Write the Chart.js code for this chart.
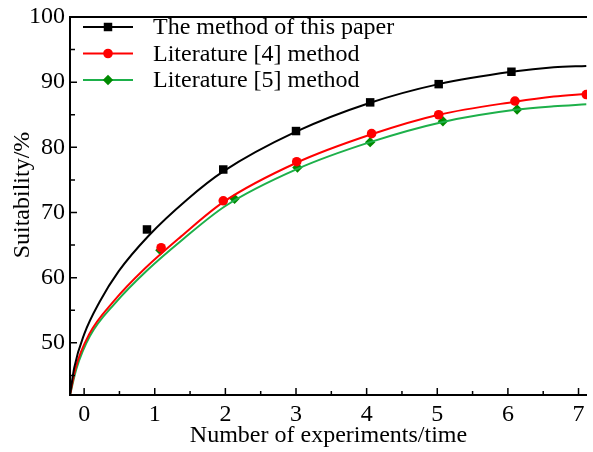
<!DOCTYPE html>
<html>
<head>
<meta charset="utf-8">
<script src="https://cdn.jsdelivr.net/npm/chart.js@4.4.1/dist/chart.umd.min.js"></script>
<style>
  html, body { margin: 0; padding: 0; background: #fff; }
  #wrap { width: 593px; height: 452px; position: relative; }
</style>
</head>
<body>
<div id="wrap"><canvas id="chart"></canvas></div>
<script>
"use strict";

var seriesNames = ["The method of this paper", "Literature [4] method", "Literature [5] method"];
var xTitle = "Number of experiments/time";
var yTitle = "Suitability/%";

// measured points (markers)
var paperX = [0.89, 1.97, 3.0, 4.05, 5.02, 6.05];
var paperY = [67.4, 76.6, 82.5, 86.9, 89.7, 91.6];
var lit4X = [1.09, 1.97, 3.01, 4.07, 5.02, 6.1, 7.11];
var lit4Y = [64.6, 71.8, 77.8, 82.1, 85.0, 87.1, 88.1];
var lit5X = [1.08, 2.13, 3.02, 4.05, 5.08, 6.13];
var lit5Y = [64.2, 72.1, 76.9, 80.8, 84.0, 85.8];

// fitted curves
var paperFitX = [-0.2, -0.14, 0.0, 0.22, 0.49, 0.91, 1.46, 1.97, 3.0, 4.04, 5.02, 6.05, 6.65, 7.11];
var paperFitY = [42.0, 46.2, 51.3, 56.3, 61.0, 66.4, 72.0, 76.3, 82.4, 86.8, 89.7, 91.6, 92.3, 92.5];
var lit4FitX = [-0.2, -0.12, 0.07, 0.42, 0.86, 1.37, 1.97, 3.0, 4.07, 5.02, 6.1, 6.65, 7.11];
var lit4FitY = [42.0, 46.2, 51.3, 56.4, 61.4, 66.3, 71.6, 77.6, 82.0, 85.0, 87.0, 87.8, 88.2];
var lit5FitX = [-0.2, -0.11, 0.08, 0.44, 0.89, 1.4, 2.0, 3.02, 4.05, 5.08, 6.13, 6.65, 7.11];
var lit5FitY = [42.0, 46.0, 51.0, 56.1, 61.1, 65.9, 71.0, 76.7, 80.8, 83.9, 85.8, 86.3, 86.6];

var xTicks = [0, 1, 2, 3, 4, 5, 6, 7];
var yTicks = [50, 60, 70, 80, 90, 100];

var FONT = "'Liberation Serif', 'Times New Roman', serif";

function pts(xs, ys) {
	return xs.map(function(x, i) { return { x: x, y: ys[i] }; });
}

function curve(label, xs, ys, color) {
	return {
		label: label, data: pts(xs, ys), showLine: true, borderColor: color,
		borderWidth: 2, pointRadius: 0, cubicInterpolationMode: "monotone"
	};
}

function markers(label, xs, ys, color, style, radius) {
	return {
		label: label, data: pts(xs, ys), showLine: false, backgroundColor: color,
		borderColor: color, borderWidth: 0, pointStyle: style, pointRadius: radius
	};
}

function drawMarker(ctx, style, x, y, r, color) {
	ctx.fillStyle = color;
	ctx.beginPath();
	if (style === "rect") {
		var s = r * Math.SQRT1_2;
		ctx.rect(x - s, y - s, 2 * s, 2 * s);
	} else if (style === "rectRot") {
		ctx.moveTo(x, y - r); ctx.lineTo(x + r, y); ctx.lineTo(x, y + r); ctx.lineTo(x - r, y);
		ctx.closePath();
	} else {
		ctx.arc(x, y, r, 0, Math.PI * 2);
	}
	ctx.fill();
}

var frameAndLegend = {
	id: "frameAndLegend",
	afterDraw: function(chart) {
		var ctx = chart.ctx, a = chart.chartArea;
		var xs = chart.scales.x, ys = chart.scales.y;
		ctx.save();
		ctx.strokeStyle = "#000";
		ctx.lineWidth = 2;
		ctx.beginPath();
		ctx.moveTo(a.right, a.top); ctx.lineTo(a.left, a.top);
		ctx.lineTo(a.left, a.bottom); ctx.lineTo(a.right, a.bottom);
		ctx.stroke();

		// inward ticks
		ctx.lineWidth = 1.5;
		ctx.beginPath();
		xTicks.forEach(function(v) {
			var px = xs.getPixelForValue(v);
			ctx.moveTo(px, a.bottom); ctx.lineTo(px, a.bottom - 7);
			var mx = xs.getPixelForValue(v + 0.5);
			if (mx < a.right) { ctx.moveTo(mx, a.bottom); ctx.lineTo(mx, a.bottom - 4); }
		});
		yTicks.forEach(function(v) {
			var py = ys.getPixelForValue(v);
			ctx.moveTo(a.left, py); ctx.lineTo(a.left + 7, py);
			var my = ys.getPixelForValue(v - 5);
			if (my < a.bottom) { ctx.moveTo(a.left, my); ctx.lineTo(a.left + 5, my); }
		});
		ctx.stroke();

		// y title, sits a bit above the middle like the original
		ctx.font = "24px " + FONT;
		ctx.fillStyle = "#000";
		ctx.textAlign = "center";
		ctx.textBaseline = "middle";
		ctx.save();
		ctx.translate(23, 195);
		ctx.rotate(-Math.PI / 2);
		ctx.fillText(yTitle, 0, 0);
		ctx.restore();

		// legend
		var rows = [
			{ line: chart.data.datasets[0], mark: chart.data.datasets[3] },
			{ line: chart.data.datasets[1], mark: chart.data.datasets[4] },
			{ line: chart.data.datasets[2], mark: chart.data.datasets[5] }
		];
		ctx.textAlign = "left";
		rows.forEach(function(r, i) {
			var y = 27 + i * 26.5;
			ctx.strokeStyle = r.line.borderColor;
			ctx.lineWidth = 2;
			ctx.beginPath(); ctx.moveTo(83, y); ctx.lineTo(133, y); ctx.stroke();
			drawMarker(ctx, r.mark.pointStyle, 108, y, r.mark.pointRadius, r.mark.backgroundColor);
			ctx.fillStyle = "#000";
			ctx.fillText(r.mark.label, 153, y + 1);
		});
		ctx.restore();
	}
};

new Chart(document.getElementById("chart").getContext("2d"), {
	type: "scatter",
	data: {
		datasets: [
			curve(seriesNames[0], paperFitX, paperFitY, "#000000"),
			curve(seriesNames[1], lit4FitX, lit4FitY, "#ff0000"),
			curve(seriesNames[2], lit5FitX, lit5FitY, "#1db04a"),
			markers(seriesNames[0], paperX, paperY, "#000000", "rect", 6),
			markers(seriesNames[1], lit4X, lit4Y, "#ff0000", "circle", 4.8),
			markers(seriesNames[2], lit5X, lit5Y, "#008a00", "rectRot", 5.2)
		]
	},
	options: {
		responsive: true,
		maintainAspectRatio: false,
		animation: false,
		layout: { padding: { top: 13, right: 0, left: 0, bottom: 0 } },
		plugins: { legend: { display: false }, tooltip: { enabled: false } },
		scales: {
			x: {
				type: "linear", min: -0.2, max: 7.12,
				grid: { display: false, drawTicks: false }, border: { display: false },
				afterFit: function(s) { s.height = 57; },
				afterBuildTicks: function(s) { s.ticks = xTicks.map(function(v) { return { value: v }; }); },
				ticks: { padding: 8, color: "#000", font: { family: FONT, size: 24, lineHeight: 1 } },
				title: { display: true, text: xTitle, color: "#000",
					padding: { top: 0, bottom: 4 }, font: { family: FONT, size: 24, lineHeight: 1 } }
			},
			y: {
				type: "linear", min: 42, max: 100,
				grid: { display: false, drawTicks: false }, border: { display: false },
				afterFit: function(s) { s.width = 70; },
				afterBuildTicks: function(s) { s.ticks = yTicks.map(function(v) { return { value: v }; }); },
				ticks: { padding: 5, color: "#000", font: { family: FONT, size: 24, lineHeight: 1 } },
				title: { display: false }
			}
		}
	},
	plugins: [frameAndLegend]
});
</script>
</body>
</html>
